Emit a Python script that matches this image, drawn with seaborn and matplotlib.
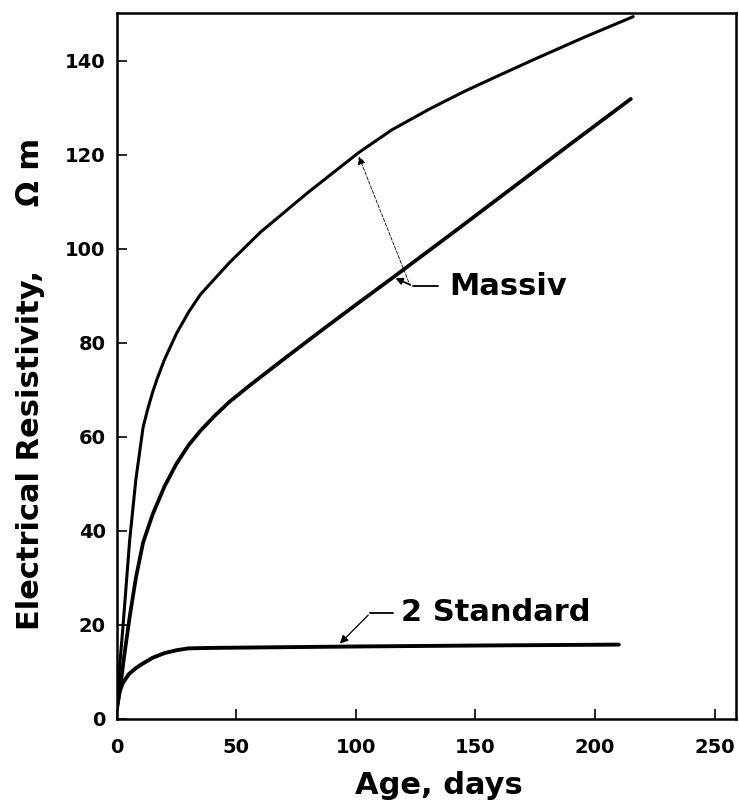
import matplotlib
matplotlib.use("Agg")
import matplotlib.pyplot as plt
import seaborn as sns
import pandas as pd

# ---- data ----
massiv_upper_days = [0, 1, 2.5, 5.4, 8, 11, 13, 15, 17, 20, 25, 30, 35, 47, 60, 80, 101, 115, 131, 145, 159, 175, 195, 216]
massiv_upper_vals = [3, 10, 19, 38, 51, 62, 66, 69.5, 72.5, 76.5, 82, 86.5, 90.3, 97, 103.5, 112, 120.4, 125.3, 129.8, 133.4, 136.7, 140.4, 144.9, 149.4]

massiv_lower_days = [0, 1.3, 3, 5.4, 8, 11, 15, 20, 25, 30, 35, 41, 47, 56, 70, 85, 100, 115.5, 140, 159, 190, 215]
massiv_lower_vals = [2, 6, 13, 21.7, 30, 37.5, 43.5, 49.5, 54.3, 58.2, 61.3, 64.5, 67.4, 71.1, 76.6, 82.4, 88.1, 93.9, 103.2, 110.5, 122.4, 131.9]

standard_days = [0, 1, 2.5, 5, 8, 11, 15, 20, 25, 30, 40, 60, 100, 150, 210]
standard_vals = [2, 5.5, 7.6, 9.5, 10.8, 11.8, 13, 14, 14.6, 15, 15.1, 15.2, 15.4, 15.6, 15.8]

x_ticks = [0, 50, 100, 150, 200, 250]
y_ticks = [0, 20, 40, 60, 80, 100, 120, 140]

sns.set_style("ticks")
plt.rcParams['font.family'] = ['DejaVu Sans']
plt.rcParams['font.weight'] = 'bold'
for k in ['text.color', 'axes.labelcolor', 'xtick.color', 'ytick.color', 'axes.edgecolor']:
    plt.rcParams[k] = 'black'

fig = plt.figure(figsize=(7.39, 8.05), dpi=100)
ax = fig.add_axes([0.158, 0.107, 0.838, 0.877])

df_u = pd.DataFrame({"day": massiv_upper_days, "val": massiv_upper_vals})
df_l = pd.DataFrame({"day": massiv_lower_days, "val": massiv_lower_vals})
df_s = pd.DataFrame({"day": standard_days, "val": standard_vals})

sns.lineplot(data=df_u, x="day", y="val", ax=ax, color="black", lw=2.2, sort=False)
sns.lineplot(data=df_l, x="day", y="val", ax=ax, color="black", lw=2.7, sort=False)
sns.lineplot(data=df_s, x="day", y="val", ax=ax, color="black", lw=2.8, sort=False)

ax.set_xlim(0, 259)
ax.set_ylim(0, 150.2)
ax.set_xticks(x_ticks)
ax.set_yticks(y_ticks)
ax.tick_params(direction="in", length=7, width=1.2)
ax.tick_params(axis="x", pad=13.5)
ax.tick_params(axis="y", pad=8)
for lab in ax.get_xticklabels() + ax.get_yticklabels():
    lab.set_fontweight("bold")
    lab.set_fontsize(14)
for sp in ax.spines.values():
    sp.set_visible(True)
    sp.set_linewidth(1.8)
    sp.set_color("black")

ax.set_xlabel("Age, days", fontsize=22, fontweight="bold", labelpad=10, x=0.52)
ax.set_ylabel("Electrical Resistivity,      Ω m", fontsize=22, fontweight="bold")
ax.yaxis.set_label_coords(-0.116, 0.475)

# annotations
ax.text(139, 92, "Massiv", fontsize=22, fontweight="bold", va="center", ha="left")
ax.plot([134.3, 123.8], [92.1, 92.1], color="black", lw=1.3)
ax.annotate("", xy=(115.5, 94), xytext=(123.8, 92.1),
            arrowprops=dict(arrowstyle="-|>", color="black", lw=1.3, mutation_scale=10))
ax.annotate("", xy=(100.8, 120.2), xytext=(122.5, 92.4),
            arrowprops=dict(arrowstyle="-|>", color="black", lw=0.6, ls=(0, (4, 2)), mutation_scale=12))

ax.text(119, 22.6, "2 Standard", fontsize=22, fontweight="bold", va="center", ha="left")
ax.plot([115.5, 106], [22.5, 22.5], color="black", lw=1.3)
ax.annotate("", xy=(92.5, 15.6), xytext=(106, 22.5),
            arrowprops=dict(arrowstyle="-|>", color="black", lw=0.9, mutation_scale=12))

fig.savefig("out.png", dpi=100)
